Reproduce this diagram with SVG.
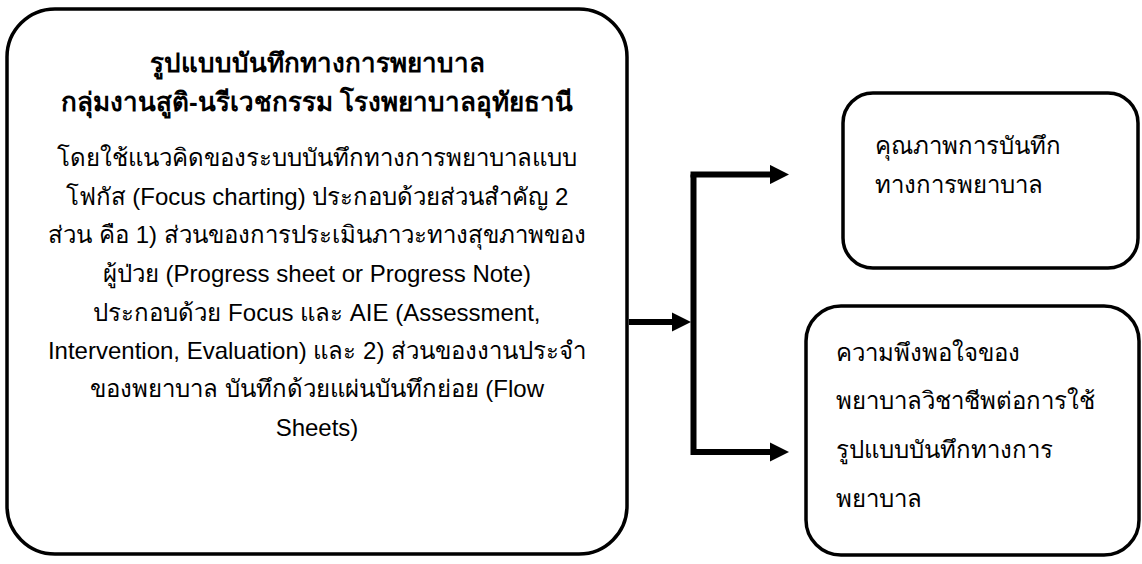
<svg xmlns="http://www.w3.org/2000/svg" width="1142" height="564" viewBox="0 0 1142 564">
<style>
.box{fill:#fff;stroke:#000;stroke-width:3.5}
.t{font-family:"Liberation Sans","Noto Sans",sans-serif;font-size:24px;fill:#000}
.c{text-anchor:middle}
.b{font-weight:bold;font-size:26px}
.con{stroke:#000;stroke-width:6;fill:none}
</style>
<defs>
<marker id="ah" markerWidth="3.2" markerHeight="3.2" refX="0" refY="1.6" orient="auto" markerUnits="strokeWidth">
<path d="M0,0 L3.2,1.6 L0,3.2 Z" fill="#000"/>
</marker>
</defs>
<rect width="1142" height="564" fill="#fff"/>
<g id="main">
<rect class="box" x="7" y="9" width="620" height="545" rx="48" ry="48"/>
<text class="t c b" x="317" y="72">รูปแบบบันทึกทางการพยาบาล</text>
<text class="t c b" x="317" y="111">กลุ่มงานสูติ-นรีเวชกรรม โรงพยาบาลอุทัยธานี</text>
<text class="t c" x="317" y="166">โดยใช้แนวคิดของระบบบันทึกทางการพยาบาลแบบ</text>
<text class="t c" x="317" y="205">โฟกัส (Focus charting) ประกอบด้วยส่วนสำคัญ 2</text>
<text class="t c" x="317" y="243">ส่วน คือ 1) ส่วนของการประเมินภาวะทางสุขภาพของ</text>
<text class="t c" x="317" y="282">ผู้ป่วย (Progress sheet or Progress Note)</text>
<text class="t c" x="317" y="321">ประกอบด้วย Focus และ AIE (Assessment,</text>
<text class="t c" x="317" y="359">Intervention, Evaluation) และ 2) ส่วนของงานประจำ</text>
<text class="t c" x="317" y="397">ของพยาบาล บันทึกด้วยแผ่นบันทึกย่อย (Flow</text>
<text class="t c" x="317" y="436">Sheets)</text>
</g>
<g id="quality">
<rect class="box" x="843" y="93" width="295" height="175" rx="30" ry="30"/>
<text class="t" x="875" y="154">คุณภาพการบันทึก</text>
<text class="t" x="875" y="193">ทางการพยาบาล</text>
</g>
<g id="satisfaction">
<rect class="box" x="806" y="306" width="333" height="249" rx="35" ry="35"/>
<text class="t" x="836" y="361">ความพึงพอใจของ</text>
<text class="t" x="836" y="409">พยาบาลวิชาชีพต่อการใช้</text>
<text class="t" x="836" y="458">รูปแบบบันทึกทางการ</text>
<text class="t" x="836" y="507">พยาบาล</text>
</g>
<g id="connectors">
<path class="con" d="M629,322 L672,322" marker-end="url(#ah)"/>
<path class="con" d="M693.5,174.5 L693.5,455"/>
<path class="con" d="M690.5,174.5 L770,174.5" marker-end="url(#ah)"/>
<path class="con" d="M693.5,452 L770,452" marker-end="url(#ah)"/>
</g>
</svg>
